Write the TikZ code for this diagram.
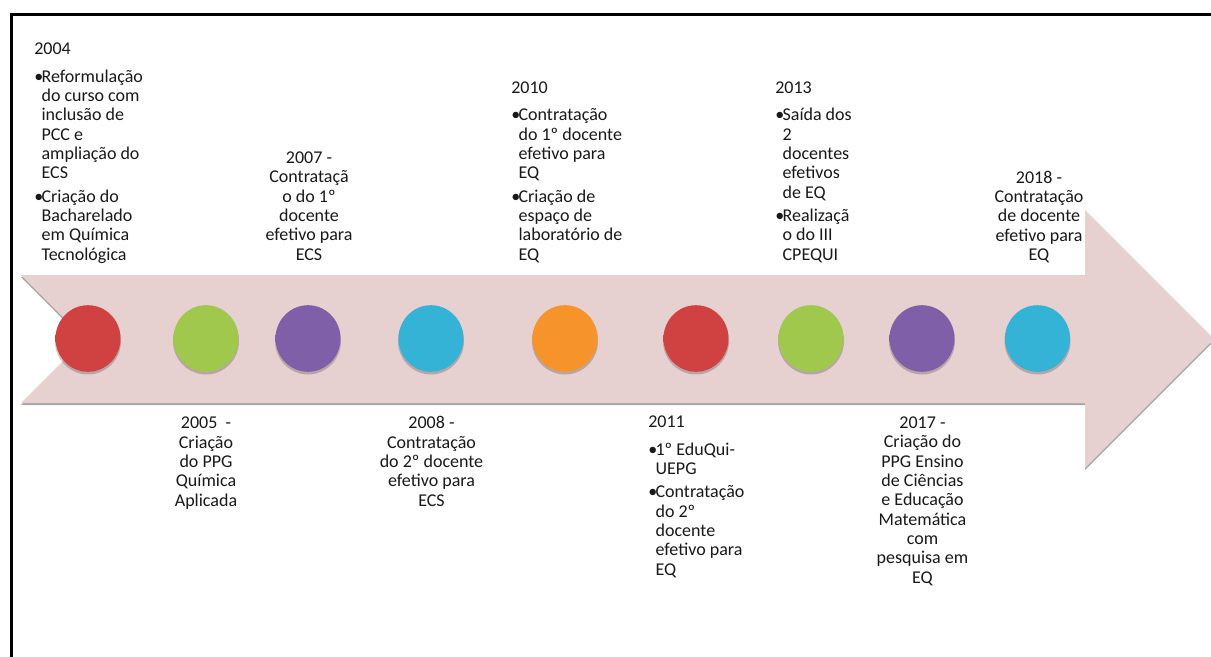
\documentclass[tikz,border=0pt]{standalone}
\usepackage{fontspec}
\setmainfont{Carlito}
\usetikzlibrary{shadows}
\definecolor{rosa}{HTML}{E6D0D0}
\definecolor{vermelho}{HTML}{D04242}
\definecolor{verdeclaro}{HTML}{A0C84C}
\definecolor{roxo}{HTML}{7F5FA8}
\definecolor{ciano}{HTML}{35B3D6}
\definecolor{laranja}{HTML}{F7932B}

\colorlet{corbola}{red}
\pgfdeclareradialshading[corbola]{bolinha}{\pgfpoint{0bp}{3bp}}{%
  color(0bp)=(corbola); color(36bp)=(corbola); color(45bp)=(corbola!88!black); color(52bp)=(corbola!62!black)}

\newcommand{\marca}{\makebox[5.5pt][l]{\textbullet}}
\newcommand{\recuo}{\hspace*{5.5pt}}

\tikzset{
  texto/.style={inner sep=0pt, font=\fontsize{13.5}{14.5}\selectfont, text=black!90},
  bola/.style={/utils/exec={\colorlet{corbola}{#1}}, shading=bolinha},
}

\begin{document}
\begin{tikzpicture}[x=0.75pt,y=-0.75pt]
    % ---- Moldura ----
    \useasboundingbox (0,0) rectangle (1211,657);
    \clip (0,0) rectangle (1211,657);
    \fill[white] (0,0) rectangle (1211,657);
    \draw[black,line width=2.25pt] (11,660) -- (11,14.3) -- (1215,14.3);

    % ---- Seta ----
    \fill[rosa,drop shadow={shadow xshift=0pt,shadow yshift=-1.5pt,opacity=0.35,fill=black}]
        (21,275) -- (1085,275) -- (1085,210) -- (1214,339) -- (1085,468)
        -- (1085,403) -- (21,403) -- (85,339) -- cycle;

    % ---- Bolinhas ----
    \foreach \cx/\cor in {88/vermelho,206/verdeclaro,308/roxo,431/ciano,565/laranja,
                          696/vermelho,811/verdeclaro,922/roxo,1037.5/ciano}{
        \fill[black,opacity=0.2] (\cx,341) ellipse [x radius=33, y radius=33.5];
        \shade[bola=\cor] (\cx,338.5) ellipse [x radius=32.5, y radius=33.3];
    }

    % ---- Textos de cima (ancorados na ultima linha) ----
    \node[texto,align=left,anchor=base west] (t2004) at (34,260) {2004\\[6pt]
        \marca Reformulação\\ \recuo do curso com\\ \recuo inclusão de\\ \recuo PCC e\\
        \recuo ampliação do\\ \recuo ECS\\[2.8pt]
        \marca Criação do\\ \recuo Bacharelado\\ \recuo em Química\\ \recuo Tecnológica};
    \node[texto,align=center,anchor=base] (t2007) at (309,260)
        {2007 -\\Contrataçã\\o do 1º\\docente\\efetivo para\\ECS};
    \node[texto,align=left,anchor=base west] (t2010) at (511,260) {2010\\[6pt]
        \marca Contratação\\ \recuo do 1º docente\\ \recuo efetivo para\\ \recuo EQ\\[2.8pt]
        \marca Criação de\\ \recuo espaço de\\ \recuo laboratório de\\ \recuo EQ};
    \node[texto,align=left,anchor=base west] (t2013) at (775,260) {2013\\[6pt]
        \marca Saída dos\\ \recuo 2\\ \recuo docentes\\ \recuo efetivos\\ \recuo de EQ\\[2.8pt]
        \marca Realizaçã\\ \recuo o do III\\ \recuo CPEQUI};
    \node[texto,align=center,anchor=base] (t2018) at (1039,260.5)
        {2018 -\\Contratação\\de docente\\efetivo para\\EQ};

    % ---- Textos de baixo ----
    \node[texto,align=center,anchor=base] (t2005) at (206,506)
        {2005 \ -\\Criação\\do PPG\\Química\\Aplicada};
    \node[texto,align=center,anchor=base] (t2008) at (431.5,506)
        {2008 -\\Contratação\\do 2º docente\\efetivo para\\ECS};
    \node[texto,align=left,anchor=base west] (t2011) at (648,575) {2011\\[6pt]
        \marca 1º EduQui-\\ \recuo UEPG\\[2.8pt]
        \marca Contratação\\ \recuo do 2º\\ \recuo docente\\ \recuo efetivo para\\ \recuo EQ};
    \node[texto,align=center,anchor=base] (t2017) at (922.5,583)
        {2017 -\\Criação do\\PPG Ensino\\de Ciências\\e Educação\\Matemática\\com\\pesquisa em\\EQ};
\end{tikzpicture}
\end{document}
